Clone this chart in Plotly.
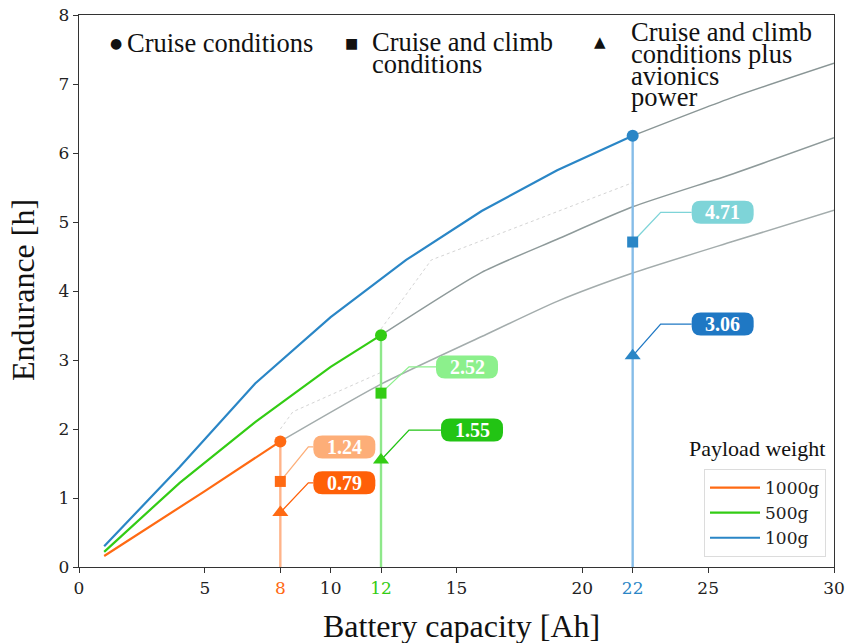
import plotly.graph_objects as go

# ---------------- data ----------------
x_1000 = [1, 3, 5, 8]
y_1000 = [0.16, 0.63, 1.10, 1.82]
x_500 = [1, 4, 7, 10, 12]
y_500 = [0.22, 1.22, 2.10, 2.90, 3.36]
x_100 = [1, 4, 7, 10, 13, 16, 19, 22]
y_100 = [0.30, 1.45, 2.66, 3.62, 4.45, 5.16, 5.75, 6.25]

x_ext_1000 = [8, 12, 16, 19, 22, 26, 30]
y_ext_1000 = [1.82, 2.65, 3.34, 3.85, 4.26, 4.72, 5.17]
x_ext_500 = [12, 16, 19, 22, 26, 30]
y_ext_500 = [3.36, 4.27, 4.75, 5.22, 5.70, 6.22]
x_ext_100 = [22, 26, 30]
y_ext_100 = [6.25, 6.81, 7.30]

x_dot_a = [8, 8.5, 12]
y_dot_a = [2.0, 2.25, 2.82]
x_dot_b = [12, 14, 22]
y_dot_b = [3.45, 4.45, 5.57]

payload_labels = ["1000g", "500g", "100g"]
design_capacity = [8, 12, 22]
cruise = [1.82, 3.36, 6.25]
cruise_climb = [1.24, 2.52, 4.71]
cruise_climb_avionics = [0.79, 1.55, 3.06]

x_ticks = [0, 5, 8, 10, 12, 15, 20, 22, 25, 30]
y_ticks = [0, 1, 2, 3, 4, 5, 6, 7, 8]

# ---------------- style ----------------
main_colors = ["#ff6a13", "#33cc14", "#2a86c6"]
light_vert = ["#ffb48a", "#8ee88a", "#86bde8"]
sq_box_colors = ["#fdae78", "#8cf08c", "#7ed4d8"]
tri_box_colors = ["#ff6008", "#22c414", "#1f78c4"]
ext_colors = ["#a3acac", "#8e9a9a", "#8a9696"]

label_y_sq = [1.74, 2.90, 5.14]
label_y_tri = [1.22, 1.985, 3.52]
box_dx_sq = [64, 86, 90]
box_dx_tri = [64, 91, 90]
elbow_dx = 28
box_hw, box_hh, box_r = 31, 11.5, 9

W, H = 846, 643
PW, PH = 755, 552
ML, MT = 79, 15
MR = W - ML - PW
MB = H - MT - PH
UX = 30 / PW
UY = 8 / PH

SERIF = "Liberation Serif"
TICKF = "DejaVu Serif"

fig = go.Figure()

# grey continuations
for xs, ys, c in zip([x_ext_1000, x_ext_500, x_ext_100], [y_ext_1000, y_ext_500, y_ext_100], ext_colors):
    fig.add_trace(go.Scatter(x=xs, y=ys, mode="lines", line=dict(color=c, width=1.5, shape="spline", smoothing=0.6),
                             showlegend=False, hoverinfo="skip"))
for xs, ys in [(x_dot_a, y_dot_a), (x_dot_b, y_dot_b)]:
    fig.add_trace(go.Scatter(x=xs, y=ys, mode="lines", line=dict(color="#d4d4d4", width=1, dash="dot"),
                             showlegend=False, hoverinfo="skip"))

# main lines
for xs, ys, c, name in zip([x_1000, x_500, x_100], [y_1000, y_500, y_100], main_colors, payload_labels):
    fig.add_trace(go.Scatter(x=xs, y=ys, mode="lines", line=dict(color=c, width=2.2),
                             name=name, showlegend=True))

# vertical lines and connectors
for i, xc in enumerate(design_capacity):
    fig.add_trace(go.Scatter(x=[xc, xc], y=[0, cruise[i]], mode="lines",
                             line=dict(color=light_vert[i], width=2.4), showlegend=False, hoverinfo="skip"))
    for ym, ly, dx, col in [(cruise_climb[i], label_y_sq[i], box_dx_sq[i], sq_box_colors[i]),
                            (cruise_climb_avionics[i], label_y_tri[i], box_dx_tri[i], tri_box_colors[i])]:
        fig.add_trace(go.Scatter(x=[xc, xc + elbow_dx * UX, xc + (dx - box_hw) * UX], y=[ym, ly, ly],
                                 mode="lines", line=dict(color=col, width=1.3),
                                 showlegend=False, hoverinfo="skip"))

# markers
fig.add_trace(go.Scatter(x=design_capacity, y=cruise, mode="markers",
                         marker=dict(symbol="circle", size=12, color=main_colors),
                         showlegend=False, hoverinfo="skip"))
fig.add_trace(go.Scatter(x=design_capacity, y=cruise_climb, mode="markers",
                         marker=dict(symbol="square", size=11, color=main_colors),
                         showlegend=False, hoverinfo="skip"))
fig.add_trace(go.Scatter(x=design_capacity, y=cruise_climb_avionics, mode="markers",
                         marker=dict(symbol="triangle-up", size=14, color=main_colors),
                         showlegend=False, hoverinfo="skip"))


def pill(cx, cy):
    x0, x1 = cx - box_hw * UX, cx + box_hw * UX
    y0, y1 = cy - box_hh * UY, cy + box_hh * UY
    rx, ry = box_r * UX, box_r * UY
    return (f"M {x0+rx},{y0} L {x1-rx},{y0} Q {x1},{y0} {x1},{y0+ry} L {x1},{y1-ry} "
            f"Q {x1},{y1} {x1-rx},{y1} L {x0+rx},{y1} Q {x0},{y1} {x0},{y1-ry} "
            f"L {x0},{y0+ry} Q {x0},{y0} {x0+rx},{y0} Z")


shapes = []
annotations = []
for i, xc in enumerate(design_capacity):
    for val, ly, dx, col in [(cruise_climb[i], label_y_sq[i], box_dx_sq[i], sq_box_colors[i]),
                             (cruise_climb_avionics[i], label_y_tri[i], box_dx_tri[i], tri_box_colors[i])]:
        cx = xc + dx * UX
        shapes.append(dict(type="path", path=pill(cx, ly), xref="x", yref="y",
                           fillcolor=col, line=dict(width=0), layer="above"))
        annotations.append(dict(x=cx, y=ly, xref="x", yref="y", text=f"<b>{val:.2f}</b>",
                                showarrow=False, font=dict(family=SERIF, size=20, color="white"),
                                xanchor="center", yanchor="middle"))


# helpers take page pixel positions
def px(xp):
    return (xp - ML) / PW


def py(yp):
    return (MT + PH - yp) / PH


def txt(xp, yp, s, size=26, family=SERIF, xanchor="left", color="#111111", angle=0):
    annotations.append(dict(x=px(xp), y=py(yp), xref="paper", yref="paper", text=s,
                            showarrow=False, xanchor=xanchor, yanchor="middle", textangle=angle,
                            font=dict(family=family, size=size, color=color)))


# top marker legend
txt(116, 43, "●", size=14, family="DejaVu Sans", xanchor="center")
txt(125, 43, "Cruise conditions", size=26.5)
txt(351, 43, "■", size=14, family="DejaVu Sans", xanchor="center")
txt(370, 42, "Cruise and climb", size=26.5)
txt(370, 64, "conditions", size=26.5)
txt(600, 42, "▲", size=15, family="DejaVu Sans", xanchor="center")
txt(629, 32, "Cruise and climb", size=26.5)
txt(629, 54, "conditions plus", size=26.5)
txt(629, 76, "avionics", size=26.5)
txt(629, 97, "power", size=26.5)

# legend title
txt(757, 448, "Payload weight", size=22, xanchor="center")

# axis titles
txt(461, 626, "Battery capacity [Ah]", size=32, xanchor="center")
txt(23, 290, "Endurance [h]", size=32, xanchor="center", angle=-90)

tick_text = []
for v in x_ticks:
    if v in design_capacity:
        c = main_colors[design_capacity.index(v)]
        tick_text.append(f"<span style='color:{c}'>{v}</span>")
    else:
        tick_text.append(str(v))

axis_common = dict(showline=True, linecolor="#333333", linewidth=1.3, mirror=True,
                   ticks="outside", ticklen=5, tickcolor="#333333", showgrid=False, zeroline=False,
                   automargin=False, ticklabeloverflow="allow",
                   tickfont=dict(family=TICKF, size=17, color="#222222"))

fig.update_layout(
    width=W, height=H,
    margin=dict(l=ML, r=MR, t=MT, b=MB, autoexpand=False),
    plot_bgcolor="white", paper_bgcolor="white",
    shapes=shapes, annotations=annotations,
    showlegend=True,
    legend=dict(x=px(826), y=py(557), xanchor="right", yanchor="bottom",
                bgcolor="white", bordercolor="#dcdcdc", borderwidth=1,
                font=dict(family=TICKF, size=17, color="#222222"),
                tracegroupgap=0, itemwidth=50),
    xaxis=dict(range=[0, 30], tickvals=x_ticks, ticktext=tick_text, **axis_common),
    yaxis=dict(range=[0, 8], tickvals=y_ticks, **axis_common),
)

fig.write_html("out.html", config={"displayModeBar": False},
               post_script="document.body.style.margin='0';document.body.style.overflow='hidden';")
